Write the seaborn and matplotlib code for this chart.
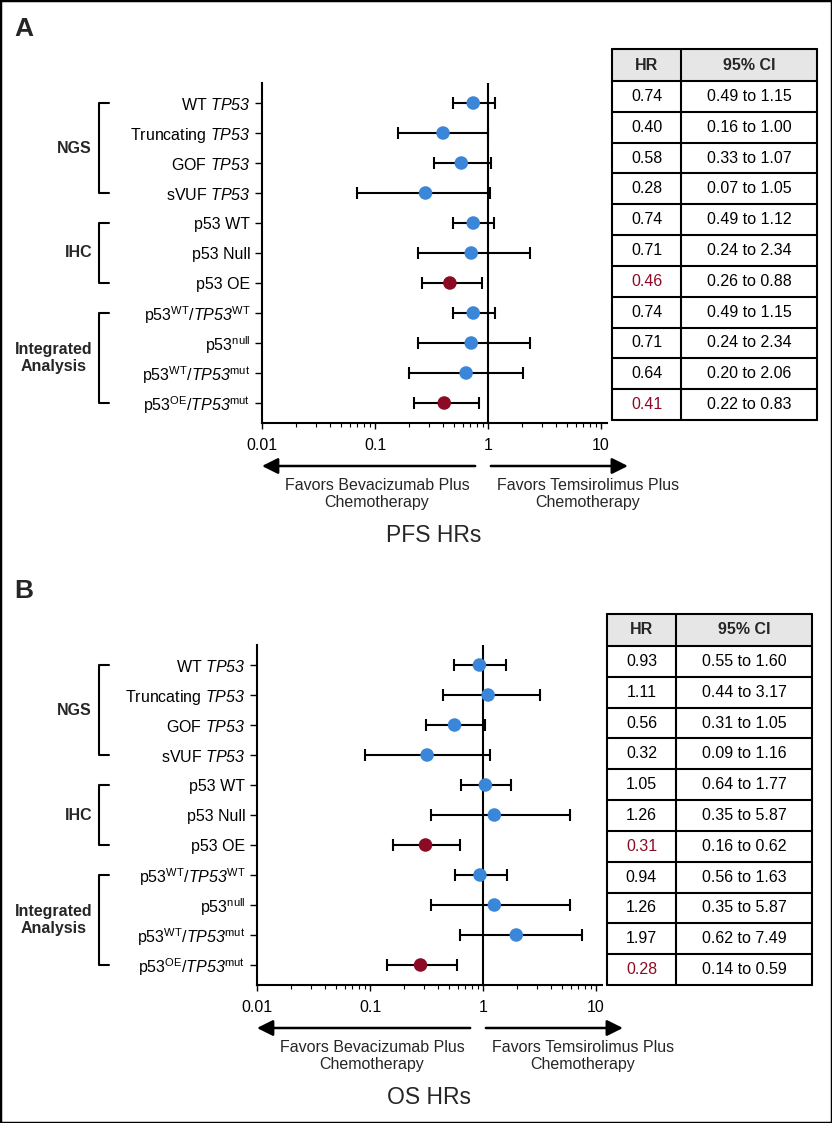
import matplotlib
matplotlib.use("Agg")
import matplotlib.pyplot as plt
import matplotlib.transforms as mtransforms
from matplotlib.patches import Rectangle
from matplotlib.ticker import NullFormatter
import pandas as pd
import seaborn as sns

# Data (\mathsf is mapped to the italic face below, so digits stay italic)
labels = [
    r"WT $\mathsf{TP53}$",
    r"Truncating $\mathsf{TP53}$",
    r"GOF $\mathsf{TP53}$",
    r"sVUF $\mathsf{TP53}$",
    "p53 WT",
    "p53 Null",
    "p53 OE",
    r"p53$^{\mathrm{WT}}$/$\mathsf{TP53}^{\mathrm{WT}}$",
    r"p53$^{\mathrm{null}}$",
    r"p53$^{\mathrm{WT}}$/$\mathsf{TP53}^{\mathrm{mut}}$",
    r"p53$^{\mathrm{OE}}$/$\mathsf{TP53}^{\mathrm{mut}}$",
]
groups = ["NGS", "IHC", "Integrated\nAnalysis"]
group_rows = [(0, 3), (4, 6), (7, 10)]

pfs_hr = [0.74, 0.40, 0.58, 0.28, 0.74, 0.71, 0.46, 0.74, 0.71, 0.64, 0.41]
pfs_lo = [0.49, 0.16, 0.33, 0.07, 0.49, 0.24, 0.26, 0.49, 0.24, 0.20, 0.22]
pfs_hi = [1.15, 1.00, 1.07, 1.05, 1.12, 2.34, 0.88, 1.15, 2.34, 2.06, 0.83]

os_hr = [0.93, 1.11, 0.56, 0.32, 1.05, 1.26, 0.31, 0.94, 1.26, 1.97, 0.28]
os_lo = [0.55, 0.44, 0.31, 0.09, 0.64, 0.35, 0.16, 0.56, 0.35, 0.62, 0.14]
os_hi = [1.60, 3.17, 1.05, 1.16, 1.77, 5.87, 0.62, 1.63, 5.87, 7.49, 0.59]

significant = [False, False, False, False, False, False, True, False, False, False, True]

xticks = [0.01, 0.1, 1, 10]
xtick_labels = ["0.01", "0.1", "1", "10"]

BLUE = "#3a86d9"
RED = "#8c0a24"

sns.set_style("white")
plt.rcParams["font.family"] = ["Liberation Sans", "DejaVu Sans"]
plt.rcParams["mathtext.fontset"] = "custom"
plt.rcParams["mathtext.rm"] = "Liberation Sans"
plt.rcParams["mathtext.it"] = "Liberation Sans:italic"
plt.rcParams["mathtext.sf"] = "Liberation Sans:italic"
plt.rcParams["mathtext.bf"] = "Liberation Sans:bold"

W, H = 832, 1123
fig = plt.figure(figsize=(W / 100, H / 100), dpi=100)


def fx(x):
    return x / W


def fy(y):
    return 1 - y / H


def draw_panel(letter, title, hr, lo, hi, dx, dy, tab_x, tab_y):
    df = pd.DataFrame({
        "label": labels,
        "row": range(len(labels)),
        "hr": hr,
        "lo": lo,
        "hi": hi,
        "sig": ["sig" if s else "ns" for s in significant],
    })

    left, right, top, bottom = 262 + dx, 607 + dx, 83 + dy, 423 + dy
    ax = fig.add_axes([fx(left), fy(bottom), (right - left) / W, (bottom - top) / H])
    ax.set_xscale("log")
    ax.set_xlim(0.01, 11.3)
    ax.set_ylim(10.667, -0.667)

    ax.axvline(1, color="black", lw=1.5, zorder=1)
    ax.errorbar(df["hr"], df["row"],
                xerr=[df["hr"] - df["lo"], df["hi"] - df["hr"]],
                fmt="none", ecolor="black", elinewidth=1.5,
                capsize=4, capthick=1.5, zorder=2)
    sns.scatterplot(data=df, x="hr", y="row", hue="sig",
                    palette={"ns": BLUE, "sig": RED}, s=95,
                    edgecolor="none", legend=False, ax=ax, zorder=3)

    ax.set_yticks(df["row"])
    ax.set_yticklabels(df["label"], fontsize=11.5)
    ax.set_xticks(xticks)
    ax.set_xticklabels(xtick_labels, fontsize=11.5)
    ax.xaxis.set_minor_formatter(NullFormatter())
    ax.set_xlabel("")
    ax.set_ylabel("")
    for s in ["top", "right"]:
        ax.spines[s].set_visible(False)
    for s in ["left", "bottom"]:
        ax.spines[s].set_linewidth(1.5)
        ax.spines[s].set_color("black")
    ax.tick_params(axis="y", length=5, width=1, pad=3.5, colors="black", left=True)
    ax.tick_params(axis="x", which="major", length=4.5, width=1, pad=6,
                   colors="black", bottom=True, direction="out")
    ax.tick_params(axis="x", which="minor", length=3, width=0.8,
                   bottom=True, direction="out", color="black")

    # brackets for groups
    trans = mtransforms.blended_transform_factory(fig.transFigure, ax.transData)
    for name, (r0, r1) in zip(groups, group_rows):
        ax.plot([fx(109), fx(99), fx(99), fx(109)], [r0, r0, r1, r1],
                color="black", lw=1.5, transform=trans, clip_on=False)
        ax.text(fx(92), (r0 + r1) / 2, name, transform=trans, ha="right",
                va="center", multialignment="center", fontsize=11.5,
                fontweight="bold")

    # direction arrows
    yf = (bottom - (466 + dy)) / (bottom - top)
    arrow = dict(arrowstyle="-|>", lw=1.8, color="black",
                 mutation_scale=24, shrinkA=0, shrinkB=0)
    ax.annotate("", xy=(0.01, yf), xytext=(0.77, yf),
                xycoords=("data", "axes fraction"), arrowprops=arrow,
                annotation_clip=False)
    ax.annotate("", xy=(17.3, yf), xytext=(1.06, yf),
                xycoords=("data", "axes fraction"), arrowprops=arrow,
                annotation_clip=False)
    fig.text(fx(377 + dx), fy(494 + dy), "Favors Bevacizumab Plus\nChemotherapy",
             ha="center", va="center", multialignment="center", fontsize=11.5)
    fig.text(fx(588 + dx), fy(494 + dy), "Favors Temsirolimus Plus\nChemotherapy",
             ha="center", va="center", multialignment="center", fontsize=11.5)
    fig.text(fx(434 + dx), fy(536 + dy), title, ha="center", va="center",
             fontsize=16.5)
    fig.text(fx(14), fy(29 + dy), letter, ha="left", va="center",
             fontsize=19, fontweight="bold")

    # table of HR and CI
    tw, th = 205, 371
    tax = fig.add_axes([fx(tab_x), fy(tab_y + th), tw / W, th / H])
    tax.set_xlim(0, tw)
    tax.set_ylim(th, 0)
    tax.axis("off")
    head = 32
    rh = (th - head) / len(labels)
    tax.add_patch(Rectangle((0, 0), tw, head, facecolor="#e6e6e6",
                            edgecolor="none", zorder=0))
    for k in range(len(labels) + 2):
        yy = 0 if k == 0 else head + (k - 1) * rh
        tax.plot([0, tw], [yy, yy], color="black", lw=1.5, clip_on=False)
    for xx in [0, 69, tw]:
        tax.plot([xx, xx], [0, th], color="black", lw=1.5, clip_on=False)
    tax.text(34.5, head / 2, "HR", ha="center", va="center",
             fontsize=11.5, fontweight="bold")
    tax.text(137, head / 2, "95% CI", ha="center", va="center",
             fontsize=11.5, fontweight="bold")
    for i in range(len(labels)):
        yc = head + (i + 0.5) * rh
        tax.text(34.5, yc, f"{hr[i]:.2f}", ha="center", va="center",
                 fontsize=11.5, color=RED if significant[i] else "black")
        tax.text(137, yc, f"{lo[i]:.2f} to {hi[i]:.2f}", ha="center",
                 va="center", fontsize=11.5, color="black")


draw_panel("A", "PFS HRs", pfs_hr, pfs_lo, pfs_hi, 0, 0, 612, 49)
draw_panel("B", "OS HRs", os_hr, os_lo, os_hi, -5, 562, 607, 614)

# frame around the figure
fig.patches.append(Rectangle((0, 0), 1, 1, transform=fig.transFigure,
                             fill=False, edgecolor="black", lw=2.5))

fig.savefig("out.png", dpi=100)
